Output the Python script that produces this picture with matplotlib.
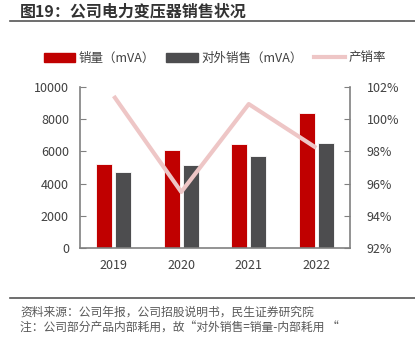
import matplotlib
matplotlib.use("Agg")
import matplotlib.pyplot as plt
from matplotlib.ticker import FuncFormatter
from matplotlib.lines import Line2D

plt.rcParams['font.family'] = ['Noto Sans CJK SC', 'DejaVu Sans']

years = ['2019', '2020', '2021', '2022']
sales = [5215, 6106, 6460, 8410]
external_sales = [4690, 5170, 5710, 6540]
sell_through = [101.44, 95.48, 100.94, 98.22]

RED = '#C00000'
GRAY = '#4D4D4F'
PINK = '#EEC6C6'
TXT = '#404040'
SPINE = '#808080'

fig = plt.figure(figsize=(4.15, 3.37), dpi=100)
ax = fig.add_axes([80/415, 1-248/337, 270/415, (248-87)/337])
x = list(range(len(years)))
w = 0.24
ax.bar([i-0.14 for i in x], sales, width=w, color=RED, edgecolor='white', linewidth=0.6, zorder=2)
ax.bar([i+0.14 for i in x], external_sales, width=w, color=GRAY, edgecolor='white', linewidth=0.6, zorder=2)
ax.set_xlim(-0.5, 3.5)
ax.set_ylim(0, 10000)
ax.set_yticks(range(0, 10001, 2000))
ax.set_xticks(x)
ax.set_xticklabels(years)
for s in ['top', 'right']:
    ax.spines[s].set_visible(False)
for s in ['left', 'bottom']:
    ax.spines[s].set_color(SPINE)
    ax.spines[s].set_linewidth(1.2)
ax.tick_params(axis='y', direction='in', length=4, color=SPINE, labelsize=9, labelcolor=TXT, pad=8)
ax.tick_params(axis='x', length=0, labelsize=9, labelcolor=TXT, pad=8)

ax2 = ax.twinx()
ax2.plot(x, sell_through, color=PINK, linewidth=3, solid_capstyle='butt', zorder=3)
ax2.set_ylim(92, 102)
ax2.set_yticks(range(92, 103, 2))
ax2.yaxis.set_major_formatter(FuncFormatter(lambda v, p: f'{v:.0f}%'))
for s in ['top', 'left', 'bottom']:
    ax2.spines[s].set_visible(False)
ax2.spines['right'].set_color(SPINE)
ax2.spines['right'].set_linewidth(1.2)
ax2.tick_params(axis='y', direction='in', length=4, color=SPINE, labelsize=9, labelcolor=TXT, pad=12)

# Title
fig.text(20/415, 1-12/337, '图19：公司电力变压器销售状况', fontsize=11.5, fontweight='bold',
         color='#333333', va='center', ha='left')
fig.add_artist(Line2D([10/415, 1], [1-21/337, 1-21/337], color='#555555', linewidth=1.2))

# Legend
handles = [
    plt.Rectangle((0, 0), 1, 1, color=RED),
    plt.Rectangle((0, 0), 1, 1, color=GRAY),
    Line2D([0], [0], color=PINK, linewidth=3),
]
labels = ['销量（mVA）', '对外销售（mVA）', '产销率']
fig.legend(handles, labels, loc='center', bbox_to_anchor=(215/415, 1-58/337), ncol=3,
           frameon=False, fontsize=9, handlelength=2.5, handletextpad=0.3, columnspacing=0.9,
           labelcolor=TXT)

# Footer
fig.add_artist(Line2D([10/415, 1], [1-298/337, 1-298/337], color='#555555', linewidth=1.2))
fig.text(20/415, 1-312/337, '资料来源：公司年报，公司招股说明书，民生证券研究院', fontsize=8.5,
         color='#595959', va='center', ha='left')
fig.text(20/415, 1-328/337, '注：公司部分产品内部耗用，故“对外销售=销量-内部耗用 “', fontsize=8.5,
         color='#595959', va='center', ha='left')

fig.savefig('out.png', dpi=100)
